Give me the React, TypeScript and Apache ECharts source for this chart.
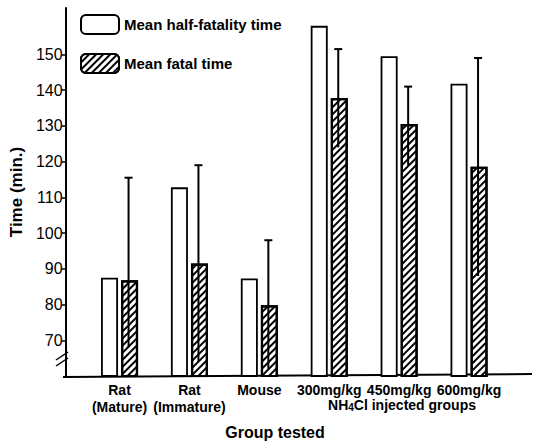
import React, { useEffect, useRef } from "react";
import * as echarts from "echarts";

const categories = ["Rat\n(Mature)", "Rat\n(Immature)", "Mouse", "300mg/kg", "450mg/kg", "600mg/kg"];
const halfFatality = [87.5, 112.8, 87.3, 158, 149.5, 141.8];
const fatalTime = [86.8, 91.5, 79.8, 137.8, 130.5, 118.6];
const fatalLow = [68, 64, 62, 124, 119, 88];
const fatalHigh = [115.5, 119, 98, 151.5, 141, 149];
const yTicks = [70, 80, 90, 100, 110, 120, 130, 140, 150];

const FONT = "'Liberation Sans', 'DejaVu Sans', sans-serif";

export default function App() {
  const ref = useRef<HTMLDivElement>(null);
  useEffect(() => {
    if (!ref.current) return;
    const chart = echarts.init(ref.current, undefined, { renderer: "svg" });
    const errData = categories.map((_, i) => [i, fatalLow[i], fatalHigh[i]]);
    chart.setOption({
      animation: false,
      backgroundColor: "#fff",
      textStyle: { fontFamily: FONT, color: "#000" },
      grid: { left: 82, right: 32, top: 8, bottom: 68 },
      legend: {
        data: ["Mean half-fatality time", "Mean fatal time"],
        orient: "vertical",
        left: 75,
        top: 9,
        itemWidth: 38,
        itemHeight: 19,
        itemGap: 18,
        textStyle: { fontFamily: FONT, fontSize: 15, fontWeight: "bold", color: "#000" },
      },
      xAxis: {
        type: "category",
        data: categories,
        axisLine: { show: false },
        axisTick: { show: false },
        axisLabel: {
          interval: 0,
          fontFamily: FONT,
          fontSize: 14,
          fontWeight: "bold",
          color: "#000",
          lineHeight: 17,
          margin: 5,
        },
      },
      yAxis: {
        type: "value",
        min: 60,
        max: 163,
        interval: 10,
        offset: 19,
        name: "Time (min.)",
        nameLocation: "middle",
        nameGap: 40,
        nameTextStyle: { fontFamily: FONT, fontSize: 17, fontWeight: "bold", color: "#000" },
        splitLine: { show: false },
        axisLine: { show: true, lineStyle: { color: "#000", width: 2 } },
        axisTick: { show: true, customValues: yTicks, length: 4, lineStyle: { color: "#000", width: 1.5 } },
        axisLabel: { customValues: yTicks, fontFamily: FONT, fontSize: 16, color: "#000", margin: 3 },
      },
      series: [
        {
          name: "Mean half-fatality time",
          type: "bar",
          data: halfFatality,
          barWidth: 17,
          barGap: "18%",
          itemStyle: { color: "#fff", borderColor: "#000", borderWidth: 1.8 },
        },
        {
          name: "Mean fatal time",
          type: "bar",
          data: fatalTime,
          barWidth: 17,
          itemStyle: {
            color: "#fff",
            borderColor: "#000",
            borderWidth: 2.2,
            decal: {
              symbol: "rect",
              symbolSize: 1,
              color: "#000",
              backgroundColor: "#fff",
              dashArrayX: [1, 0],
              dashArrayY: [2, 2.5],
              rotation: -Math.PI / 4,
            },
          },
        },
        {
          name: "err",
          type: "custom",
          data: errData,
          encode: { x: 0, y: [1, 2] },
          z: 10,
          renderItem: (params: any, api: any) => {
            const i = api.value(0);
            const lo = api.coord([i, api.value(1)]);
            const hi = api.coord([i, api.value(2)]);
            const x = hi[0] + 9;
            const style = { stroke: "#000", lineWidth: 2 };
            return {
              type: "group",
              children: [
                { type: "line", shape: { x1: x, y1: lo[1], x2: x, y2: hi[1] }, style },
                { type: "line", shape: { x1: x - 4, y1: hi[1], x2: x + 4, y2: hi[1] }, style },
              ],
            };
          },
        },
      ],
      graphic: [
        { type: "line", shape: { x1: 63, y1: 377, x2: 532, y2: 374 }, style: { stroke: "#000", lineWidth: 2 } },
        { type: "rect", shape: { x: 58, y: 354, width: 10, height: 8 }, style: { fill: "#fff" } },
        { type: "line", shape: { x1: 56, y1: 360, x2: 68, y2: 352 }, style: { stroke: "#000", lineWidth: 1.5 } },
        { type: "line", shape: { x1: 56, y1: 366, x2: 68, y2: 358 }, style: { stroke: "#000", lineWidth: 1.5 } },
        {
          type: "text",
          x: 402,
          y: 398,
          style: {
            text: "{a|NH}{s|4}{a|Cl injected groups}",
            align: "center",
            rich: {
              a: { fontFamily: FONT, fontSize: 14, fontWeight: "bold", fill: "#000" },
              s: { fontFamily: FONT, fontSize: 10, fontWeight: "bold", fill: "#000", padding: [4, 0, 0, 0] },
            },
          },
        },
        {
          type: "text",
          x: 275,
          y: 424,
          style: { text: "Group tested", align: "center", fontFamily: FONT, fontSize: 16, fontWeight: "bold", fill: "#000" },
        },
      ],
    });
    return () => chart.dispose();
  }, []);
  return <div ref={ref} style={{ width: 536, height: 444, position: "absolute", left: 0, top: 0 }} />;
}
